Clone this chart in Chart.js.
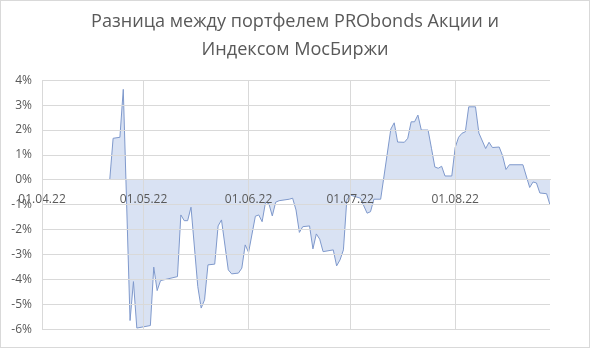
<!DOCTYPE html>
<html>
<head>
<meta charset="utf-8">
<script src="https://cdn.jsdelivr.net/npm/chart.js@4"></script>
<style>
  body { margin: 0; background: #fff; }
  .box { width: 590px; height: 348px; box-sizing: border-box; border: 1px solid #d9d9d9; }
</style>
</head>
<body>
<div class="box"><canvas id="raznica" width="588" height="346"></canvas></div>
<script>
// days since 01.04.22
const days = [20,21,23,24,26,27,28,32,33,34,35,40,41,42,43,44,46,47,48,49,
  51,52,53,55,56,58,59,60,61,63,64,65,66,67,68,69,70,73,74,75,
  76,77,79,80,81,82,83,86,87,88,89,90,91,94,96,97,98,100,103,104,
  105,107,108,109,110,111,112,114,115,116,117,118,119,121,122,123,124,125,126,128,
  129,131,132,133,135,136,137,138,142,144,145,146,147,149,150]
// difference, %
const raznica = [0,1.67,1.71,3.63,-5.63,-4.07,-5.93,-5.83,-3.49,-4.43,
  -4.03,-3.87,-1.4,-1.63,-1.63,-1.09,-4.27,-5.13,-4.8,-3.4,
  -3.37,-1.84,-1.6,-3.6,-3.76,-3.73,-3.53,-2.6,-2.9,-1.45,
  -1.4,-1.67,-0.89,-0.95,-1.44,-0.89,-0.83,-0.77,-0.73,-1.2,
  -2.1,-1.87,-1.84,-2.76,-2.16,-2.37,-2.87,-2.8,-3.44,-3.2,
  -2.8,-0.8,-0.6,-0.73,-1.33,-1.27,-0.77,-0.77,2.04,2.29,
  1.52,1.51,1.67,2.33,2.33,2.6,2.0,2.0,1.27,0.52,
  0.47,0.55,0.16,0.16,1.3,1.71,1.87,1.93,2.93,2.93,
  1.88,1.26,1.51,1.3,1.32,0.97,0.42,0.61,0.61,-0.3,
  -0.08,-0.12,-0.52,-0.55,-1.0]
const mesDias = [0,30,61,91,122]
const mesLabels = ['01.04.22','01.05.22','01.06.22','01.07.22','01.08.22']

Chart.defaults.font.family = "'Open Sans', sans-serif"
Chart.defaults.color = '#595959'

const pontos = days.map((d, i) => ({x: d, y: raznica[i]}))

new Chart(document.getElementById('raznica'), {
  type: 'line',
  data: {
    datasets: [{
      data: pontos,
      borderColor: '#7f99cc',
      backgroundColor: '#d9e2f3',
      borderWidth: 1,
      pointRadius: 0,
      tension: 0,
      fill: 'origin'
    }]
  },
  options: {
    responsive: false,
    animation: false,
    layout: { padding: { left: 0, right: 0, bottom: 13 } },
    plugins: {
      legend: { display: false },
      tooltip: { enabled: false },
      title: {
        display: true,
        text: ['Разница между портфелем PRObonds Акции и', 'Индексом МосБиржи'],
        font: { size: 18.1, weight: 'normal', lineHeight: 1.55 },
        color: '#595959',
        padding: { top: 7, bottom: 16 }
      }
    },
    scales: {
      x: {
        type: 'linear',
        position: { y: 0 },
        min: 0,
        max: 150,
        afterBuildTicks: (scale) => { scale.ticks = mesDias.map(v => ({value: v})) },
        ticks: {
          z: 1,
          autoSkip: false,
          maxRotation: 0,
          padding: 12,
          font: { size: 12 },
          callback: (v) => mesLabels[mesDias.indexOf(v)]
        },
        grid: { z: 1, color: '#d9d9d9', drawTicks: false },
        border: { z: 1, color: '#d9d9d9' }
      },
      y: {
        min: -6,
        max: 4,
        afterFit: (scale) => { scale.width = 41 },
        ticks: {
          stepSize: 1,
          padding: 10,
          font: { size: 12 },
          callback: (v) => v + '%'
        },
        grid: { z: 1, color: '#d9d9d9', drawTicks: false },
        border: { z: 1, color: '#d9d9d9' }
      },
      // empty space on the right side
      direita: {
        position: 'right',
        min: -6,
        max: 4,
        afterFit: (scale) => { scale.width = 39 },
        ticks: { display: false },
        grid: { display: false },
        border: { display: false }
      }
    }
  }
})
</script>
</body>
</html>
